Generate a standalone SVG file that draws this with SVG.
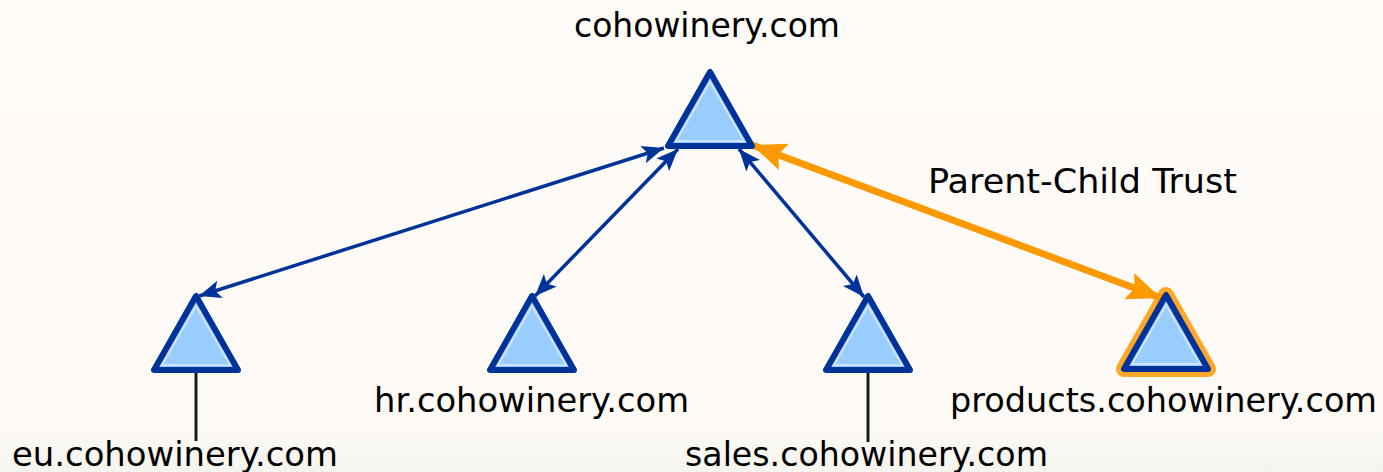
<svg xmlns="http://www.w3.org/2000/svg" width="1383" height="472" viewBox="0 0 1383 472">
<defs>
<linearGradient id="bg" x1="0" y1="0" x2="0" y2="1">
<stop offset="0" stop-color="#fffbf8"/>
<stop offset="0.9" stop-color="#fdfaf6"/>
<stop offset="1" stop-color="#f6f4ef"/>
</linearGradient>
<marker id="ab" viewBox="0 0 22 18" refX="22" refY="9" markerWidth="22" markerHeight="18" markerUnits="userSpaceOnUse" orient="auto-start-reverse">
<path d="M0,0 L22,9 L0,18 L5,9 Z" fill="#003399"/>
</marker>
<marker id="ao" viewBox="0 0 34 28" refX="34" refY="14" markerWidth="34" markerHeight="28" markerUnits="userSpaceOnUse" orient="auto-start-reverse">
<path d="M0,0 L34,14 L0,28 L6,14 Z" fill="#ff9900"/>
</marker>
<path id="tri" d="M0,-37 L-42,37 L42,37 Z"/>
<path id="hi" d="M0,-27 L-34,32 L34,32 Z"/>
</defs>
<style>
.lbl{font-family:"DejaVu Sans","Liberation Sans",sans-serif;font-size:33px;fill:#000}
.tri{fill:#99ccff;stroke:#003399;stroke-width:6;stroke-linejoin:round}
.hl{fill:none;stroke:#cfe3ff;stroke-width:2}
.glow{fill:none;stroke:#ff9900;stroke-width:16;stroke-linejoin:round;opacity:0.85}
.stem{stroke:#1a1a1a;stroke-width:3}
.blue{stroke:#003399;stroke-width:3.5;fill:none}
.orange{stroke:#ff9900;stroke-width:7;fill:none}
</style>
<rect width="1383" height="472" fill="url(#bg)"/>

<g id="connectors">
<line class="blue" x1="664" y1="148" x2="199" y2="296" marker-start="url(#ab)" marker-end="url(#ab)"/>
<line class="blue" x1="678" y1="149" x2="535" y2="296" marker-start="url(#ab)" marker-end="url(#ab)"/>
<line class="blue" x1="739" y1="149" x2="864" y2="297" marker-start="url(#ab)" marker-end="url(#ab)"/>
<line class="orange" x1="752" y1="145" x2="1161" y2="298" marker-start="url(#ao)" marker-end="url(#ao)"/>
<line class="stem" x1="196" y1="373" x2="196" y2="441"/>
<line class="stem" x1="868" y1="373" x2="868" y2="442"/>
</g>

<g id="cohowinery">
<use href="#tri" class="tri" transform="translate(710,109)"/>
<use href="#hi" class="hl" transform="translate(710,109)"/>
<text class="lbl" x="574" y="37" textLength="266" lengthAdjust="spacingAndGlyphs">cohowinery.com</text>
</g>

<g id="eu">
<use href="#tri" class="tri" transform="translate(196,333)"/>
<use href="#hi" class="hl" transform="translate(196,333)"/>
<text class="lbl" x="12" y="466" textLength="326" lengthAdjust="spacingAndGlyphs">eu.cohowinery.com</text>
</g>

<g id="hr">
<use href="#tri" class="tri" transform="translate(532,333)"/>
<use href="#hi" class="hl" transform="translate(532,333)"/>
<text class="lbl" x="374" y="412" textLength="315" lengthAdjust="spacingAndGlyphs">hr.cohowinery.com</text>
</g>

<g id="sales">
<use href="#tri" class="tri" transform="translate(868,333)"/>
<use href="#hi" class="hl" transform="translate(868,333)"/>
<text class="lbl" x="685" y="466" textLength="363" lengthAdjust="spacingAndGlyphs">sales.cohowinery.com</text>
</g>

<g id="products">
<use href="#tri" class="glow" transform="translate(1166,332)"/>
<use href="#tri" class="tri" transform="translate(1166,332)"/>
<use href="#hi" class="hl" transform="translate(1166,332)"/>
<text class="lbl" x="950" y="412" textLength="427" lengthAdjust="spacingAndGlyphs">products.cohowinery.com</text>
</g>

<g id="trust-label">
<text class="lbl" x="928" y="193" textLength="309" lengthAdjust="spacingAndGlyphs">Parent-Child Trust</text>
</g>
</svg>
